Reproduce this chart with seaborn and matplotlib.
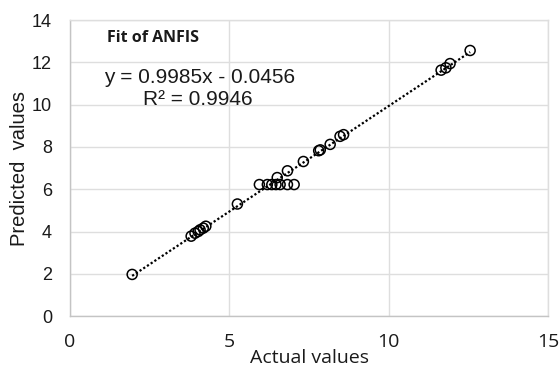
import numpy as np
import pandas as pd
import matplotlib
matplotlib.use("Agg")
import matplotlib.pyplot as plt
import seaborn as sns

# Observed vs. ANFIS-predicted values
actual = [1.95, 3.80, 3.92, 4.02, 4.08, 4.18, 4.26, 5.25,
          5.94, 6.19, 6.33, 6.46, 6.59, 6.82, 7.03,
          6.50, 6.82, 7.32, 7.80, 7.85, 8.16, 8.47, 8.58,
          11.64, 11.79, 11.92, 12.55]
predicted = [1.97, 3.78, 3.92, 4.00, 4.08, 4.16, 4.25, 5.30,
             6.22, 6.22, 6.22, 6.22, 6.22, 6.22, 6.22,
             6.55, 6.87, 7.31, 7.82, 7.86, 8.12, 8.50, 8.58,
             11.63, 11.74, 11.94, 12.56]

# Linear trendline coefficients and goodness of fit
slope = 0.9985
intercept = -0.0456
r_squared = 0.9946

x_ticks = [0, 5, 10, 15]
y_ticks = [0, 2, 4, 6, 8, 10, 12, 14]

df = pd.DataFrame({"Actual values": actual, "Predicted values": predicted})
x_line = np.array([min(actual), max(actual)])
line_df = pd.DataFrame({"x": x_line, "y": slope * x_line + intercept})

sns.set_style("white")
fig = plt.figure(figsize=(5.6, 3.71), dpi=100)
ax = fig.add_axes([0.125, 0.148, 0.854, 0.798])

sns.lineplot(data=line_df, x="x", y="y", ax=ax, color="black",
             linestyle=(0, (1, 1.0)), linewidth=1.6, zorder=2)
sns.scatterplot(data=df, x="Actual values", y="Predicted values", ax=ax,
                marker="o", s=52, facecolor="none", edgecolor="black",
                linewidth=1.1, zorder=3)

ax.set_xlim(0, 15)
ax.set_ylim(0, 14)
ax.set_xticks(x_ticks)
ax.set_yticks(y_ticks)
ax.set_xticklabels([str(v) for v in x_ticks], fontfamily="Open Sans",
                   fontsize=14, color="#1a1a1a")
ax.set_yticklabels([str(v) for v in y_ticks], fontfamily="Liberation Sans",
                   fontsize=13, color="#1a1a1a")
ax.tick_params(axis="x", length=0, pad=12)
ax.tick_params(axis="y", length=0, pad=13)

ax.grid(True, color="#dedede", linewidth=1.0)
ax.set_axisbelow(True)
for side in ["left", "right", "top", "bottom"]:
    ax.spines[side].set_visible(True)
    ax.spines[side].set_color("#dedede")
    ax.spines[side].set_linewidth(1.0)
ax.spines["bottom"].set_color("#c4c4c4")
ax.spines["left"].set_color("#c4c4c4")

ax.set_xlabel("Actual values", fontfamily="Open Sans", fontsize=14,
              color="#1a1a1a", labelpad=-1)
ax.set_ylabel("Predicted  values", fontfamily="Liberation Sans", fontsize=14.5,
              color="#1a1a1a", labelpad=2)

ax.text(1.16, 13.15, "Fit of ANFIS", fontfamily="Open Sans", fontweight="bold",
        fontsize=11.5, color="#1a1a1a", ha="left", va="center")
ax.text(1.07, 11.3, f"y = {slope}x - {abs(intercept)}",
        fontfamily="Liberation Sans", fontsize=15, color="#1a1a1a",
        ha="left", va="center")
ax.text(2.29, 10.25, f"R² = {r_squared}", fontfamily="Liberation Sans",
        fontsize=15, color="#1a1a1a", ha="left", va="center")

fig.savefig("out.png", dpi=100)
